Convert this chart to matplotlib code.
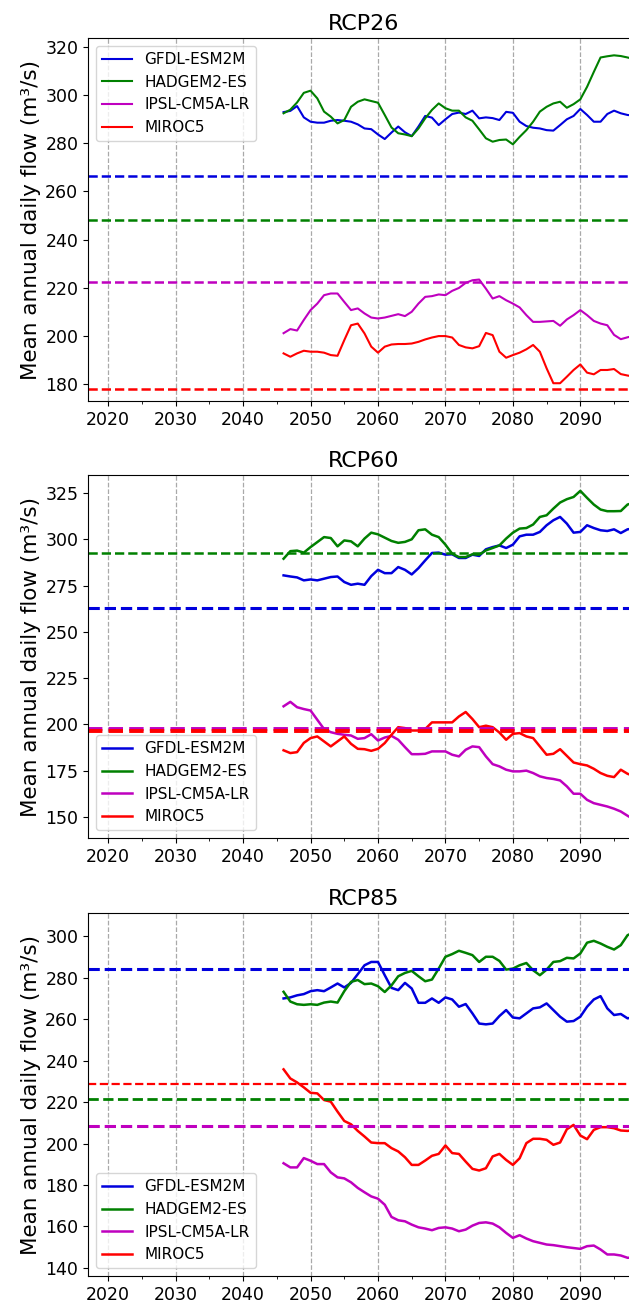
import numpy as np
import matplotlib.pyplot as plt
from matplotlib.ticker import MultipleLocator

years = np.arange(2046, 2099)
models = ['GFDL-ESM2M', 'HADGEM2-ES', 'IPSL-CM5A-LR', 'MIROC5']
colors = ['#0000dd', 'g', 'm', 'r']

# RCP26 simulated flows
rcp26_gfdl = [293.0, 293.5, 295.5, 290.8, 289.0, 288.6, 288.6, 289.4, 289.7, 289.4,
              289.0, 287.9, 286.2, 285.9, 283.7, 281.8, 284.5, 287.0, 284.6, 283.0,
              287.0, 291.4, 290.7, 287.6, 290.0, 292.2, 292.8, 292.2, 293.6, 290.4,
              290.8, 290.5, 289.7, 293.1, 292.7, 289.0, 287.2, 286.5, 286.2, 285.5,
              285.3, 287.6, 290.0, 291.4, 294.3, 291.8, 289.0, 289.0, 292.2, 293.6,
              292.5, 291.8, 291.5]
rcp26_hadgem = [292.5, 294.0, 297.0, 301.0, 301.9, 298.7, 293.2, 291.1, 288.3, 289.7,
                295.2, 297.3, 298.3, 297.6, 296.9, 291.8, 286.6, 284.2, 283.7, 283.0,
                286.2, 290.4, 293.9, 296.6, 294.6, 293.6, 293.6, 290.8, 289.4, 285.8,
                282.1, 280.7, 281.4, 281.6, 279.6, 282.7, 285.5, 289.0, 293.2, 295.2,
                296.6, 297.3, 294.8, 296.3, 298.3, 303.5, 309.7, 315.7, 316.2, 316.6,
                316.3, 315.7, 315.0]
rcp26_ipsl = [201.1, 202.8, 202.2, 206.6, 210.7, 213.4, 216.9, 217.6, 217.6, 214.1,
              210.7, 211.4, 209.3, 207.6, 207.2, 207.6, 208.3, 209.0, 208.2, 210.0,
              213.4, 216.2, 216.5, 217.2, 216.9, 218.7, 219.9, 222.0, 223.1, 223.4,
              219.6, 215.5, 216.5, 214.8, 213.4, 211.8, 208.6, 205.8, 205.8, 206.0,
              206.2, 204.2, 206.8, 208.6, 210.7, 208.6, 206.2, 205.1, 204.4, 200.4,
              198.6, 199.4, 200.0]
rcp26_miroc = [192.7, 191.3, 192.7, 193.8, 193.4, 193.4, 193.0, 192.0, 191.7, 198.2,
               204.4, 205.1, 201.0, 195.5, 193.0, 195.5, 196.4, 196.6, 196.6, 196.8,
               197.5, 198.5, 199.3, 199.9, 199.9, 199.3, 196.2, 195.2, 194.8, 195.7,
               201.2, 200.3, 193.4, 190.9, 192.0, 193.0, 194.4, 196.2, 193.4, 186.5,
               180.3, 180.3, 183.0, 185.8, 188.1, 184.7, 184.0, 185.8, 185.8, 186.2,
               184.1, 183.5, 183.0]

# RCP60 simulated flows
rcp60_gfdl = [280.6, 280.0, 279.5, 277.9, 278.4, 277.9, 278.8, 279.7, 280.0, 277.0,
              275.5, 276.1, 275.5, 280.2, 283.6, 281.8, 281.8, 285.1, 283.6, 281.1,
              284.5, 288.7, 292.7, 292.9, 291.8, 292.0, 290.0, 290.0, 291.8, 291.1,
              294.7, 295.9, 296.8, 295.4, 297.2, 301.7, 302.6, 302.6, 304.1, 307.7,
              310.4, 312.2, 308.6, 303.7, 304.1, 307.7, 306.2, 305.0, 304.6, 305.5,
              303.5, 305.5, 306.0]
rcp60_hadgem = [289.6, 293.7, 294.0, 292.9, 295.9, 298.6, 301.3, 300.8, 296.3, 299.5,
                299.0, 296.3, 300.5, 303.7, 302.8, 301.0, 299.2, 298.2, 298.7, 300.1,
                305.0, 305.5, 302.6, 301.3, 297.2, 292.3, 290.5, 290.5, 292.0, 291.8,
                294.1, 295.4, 296.8, 300.5, 303.7, 305.9, 306.2, 308.1, 312.2, 313.1,
                316.7, 320.0, 321.8, 323.0, 326.3, 322.5, 318.9, 316.2, 315.3, 315.3,
                315.4, 318.9, 320.0]
rcp60_ipsl = [209.8, 212.2, 209.3, 208.3, 207.5, 202.5, 197.5, 195.8, 194.9, 194.4,
              194.0, 192.2, 192.6, 194.7, 191.3, 192.9, 193.8, 191.7, 187.7, 183.9,
              183.9, 184.1, 185.4, 185.4, 185.4, 183.6, 182.7, 186.3, 188.1, 187.7,
              182.7, 178.5, 177.3, 175.5, 174.6, 174.6, 175.0, 173.7, 171.9, 171.0,
              170.5, 169.7, 166.5, 162.5, 162.5, 159.2, 157.4, 156.5, 155.6, 154.4,
              152.9, 150.6, 148.5]
rcp60_miroc = [186.0, 184.5, 185.0, 190.0, 192.6, 193.5, 190.8, 188.1, 190.8, 193.5,
               189.5, 186.8, 186.6, 185.7, 186.8, 189.9, 194.4, 198.5, 198.0, 196.7,
               196.7, 197.5, 201.1, 201.1, 201.1, 201.1, 204.3, 206.7, 202.9, 198.5,
               199.3, 198.5, 195.6, 191.7, 194.9, 195.3, 193.5, 192.6, 188.1, 183.6,
               184.1, 186.6, 183.0, 179.4, 178.5, 177.8, 176.0, 173.7, 172.2, 171.5,
               175.5, 173.3, 172.0]

# RCP85 simulated flows
rcp85_gfdl = [270.0, 270.5, 271.5, 272.1, 273.5, 274.0, 273.5, 275.3, 277.2, 275.3,
              277.5, 281.7, 286.0, 287.6, 287.6, 281.2, 275.1, 274.0, 277.5, 274.8,
              267.9, 267.9, 270.0, 267.9, 270.5, 269.5, 266.0, 267.3, 262.8, 257.9,
              257.5, 257.9, 261.5, 264.4, 260.8, 260.4, 262.8, 265.2, 265.7, 267.6,
              264.4, 261.2, 258.8, 259.1, 261.2, 266.0, 269.5, 271.1, 265.2, 262.0,
              262.5, 260.4, 261.0]
rcp85_hadgem = [273.2, 268.5, 267.2, 266.9, 267.2, 266.9, 268.0, 268.5, 268.0, 273.5,
                278.0, 278.9, 276.9, 277.2, 275.9, 273.1, 276.3, 280.7, 282.3, 283.3,
                280.7, 278.3, 279.1, 284.4, 290.1, 291.4, 293.0, 292.0, 290.9, 287.6,
                290.1, 290.1, 288.1, 283.9, 284.4, 286.0, 287.1, 283.6, 281.2, 283.9,
                287.6, 288.0, 289.6, 289.3, 291.7, 296.9, 297.8, 296.5, 294.9, 293.6,
                295.7, 300.5, 302.0]
rcp85_ipsl = [190.5, 188.5, 188.5, 193.0, 191.7, 190.1, 190.1, 186.1, 183.7, 183.2,
              181.3, 178.6, 176.5, 174.5, 173.4, 170.5, 164.6, 163.0, 162.5, 160.9,
              159.6, 159.0, 158.2, 159.3, 159.6, 159.0, 157.7, 158.5, 160.4, 161.7,
              162.0, 161.4, 159.6, 156.9, 154.5, 155.8, 154.2, 152.9, 152.1, 151.3,
              151.0, 150.5, 150.0, 149.6, 149.2, 150.5, 150.8, 148.9, 146.5, 146.5,
              146.0, 144.9, 145.0]
rcp85_miroc = [235.8, 231.4, 229.5, 227.1, 224.5, 224.2, 221.0, 220.2, 215.4, 210.9,
               209.3, 206.1, 203.4, 200.5, 200.2, 200.2, 197.8, 196.2, 193.4, 189.7,
               189.7, 191.8, 194.1, 195.0, 199.1, 195.4, 195.0, 191.3, 187.8, 187.0,
               188.1, 193.8, 195.0, 192.1, 189.7, 192.9, 200.2, 202.3, 202.3, 201.8,
               199.4, 200.5, 206.9, 209.0, 203.9, 202.1, 206.6, 207.9, 207.9, 207.4,
               206.3, 206.1, 206.5]

# historical mean flow of each model (dashed reference lines)
base26 = [266.3, 248.3, 222.3, 178.1]
base60 = [262.7, 292.6, 197.3, 196.6]
base85 = [284.0, 221.4, 208.7, 228.5]

scenarios = [
    ('RCP26', [rcp26_gfdl, rcp26_hadgem, rcp26_ipsl, rcp26_miroc], base26,
     (172.9, 323.7), 20, 'upper left', 1.5, [1.8, 1.8, 1.8, 1.8]),
    ('RCP60', [rcp60_gfdl, rcp60_hadgem, rcp60_ipsl, rcp60_miroc], base60,
     (138.6, 334.8), 25, 'lower left', 1.8, [2.2, 1.8, 2.8, 2.8]),
    ('RCP85', [rcp85_gfdl, rcp85_hadgem, rcp85_ipsl, rcp85_miroc], base85,
     (136.1, 311.1), 20, 'lower left', 1.8, [2.2, 2.0, 2.2, 1.6]),
]

fig = plt.figure(figsize=(6.29, 13.05), dpi=100)
bottoms = [0.6927, 0.3579, 0.0222]

for (name, series, base, ylim, ystep, loc, lw, blw), b in zip(scenarios, bottoms):
    ax = fig.add_axes([0.1399, b, 0.876, 0.2780])
    for s, c, m in zip(series, colors, models):
        ax.plot(years, s, color=c, lw=lw, label=m)
    for v, c, w in zip(base, colors, blw):
        ax.axhline(v, color=c, ls='--', lw=w)
    ax.set_xlim(2017.0, 2098.7)
    ax.set_ylim(*ylim)
    ax.xaxis.set_major_locator(MultipleLocator(10))
    ax.xaxis.set_minor_locator(MultipleLocator(5))
    ax.yaxis.set_major_locator(MultipleLocator(ystep))
    ax.grid(axis='x', which='major', ls='--', color='darkgrey', lw=0.9)
    ax.tick_params(labelsize=12.5)
    ax.set_title(name, fontsize=16)
    ax.set_ylabel('Mean annual daily flow (m³/s)', fontsize=15.5, labelpad=3)
    ax.legend(loc=loc, fontsize=11)

fig.savefig('out.png', dpi=100)
